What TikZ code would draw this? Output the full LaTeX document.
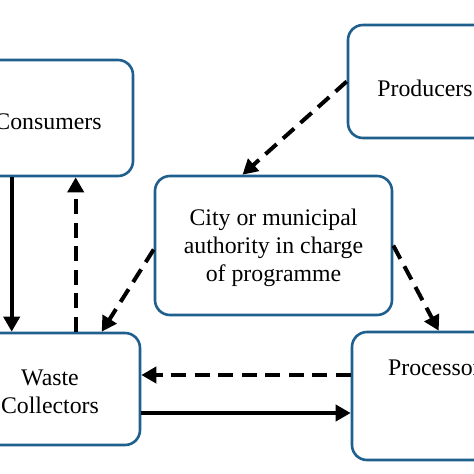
\documentclass[tikz,border=0pt]{standalone}
\usepackage{fontspec}
\setmainfont{Liberation Serif}
\usetikzlibrary{arrows.meta}
\definecolor{boxblue}{HTML}{1F5F8E}
\begin{document}
\begin{tikzpicture}[x=1pt,y=-1pt,
  box/.style={draw=boxblue,line width=2.6pt,rounded corners=15pt,fill=white,inner sep=0pt},
  txt/.style={font=\fontsize{23.8}{28}\selectfont,align=center,inner sep=0pt},
  conn/.style={line width=4pt,-{Triangle[length=15pt,width=16pt]}},
  dconn/.style={conn,dash pattern=on 15pt off 8.5pt}]
\useasboundingbox (0,0) rectangle (474,474);
\clip (0,0) rectangle (474,474);
\fill[white] (0,0) rectangle (474,474);
% boxes
\node[box,minimum width=170pt,minimum height=116pt] (cons) at (48,118) {};
\node[box,minimum width=152pt,minimum height=113pt] (prod) at (424,81.5) {};
\node[box,minimum width=237pt,minimum height=139pt] (city) at (273.5,245.5) {};
\node[box,minimum width=180pt,minimum height=112pt] (waste) at (50,389) {};
\node[box,minimum width=174pt,minimum height=128pt] (proc) at (439,396) {};
% texts
\node[txt] (const) at (48,122) {Consumers};
\node[txt] (prodt) at (425,88) {Producers};
\node[txt] (cityt) at (273.5,248) {City or municipal\\authority in charge\\of programme};
\node[txt] (wastet) at (50,391.5) {Waste\\Collectors};
\node[txt] (proct) at (439,368) {Processors};
% connectors
\draw[dconn] (prod.west) -- ([xshift=-31pt]city.north);
\draw[conn] ([xshift=50pt]cons.south west) -- ([xshift=53pt]waste.north west);
\draw[dconn] ([xshift=117pt]waste.north west) -- ([xshift=114pt]cons.south west);
\draw[dconn] ([yshift=-4pt]city.west) -- ([xshift=143pt]waste.north west);
\draw[dconn] (city.east) -- ([xshift=88pt]proc.north west);
\draw[dconn] ([yshift=21pt]proc.west) -- ([yshift=14pt]waste.east);
\draw[conn] ([yshift=-24pt]waste.east) -- ([yshift=-17pt]proc.west);
\end{tikzpicture}
\end{document}
